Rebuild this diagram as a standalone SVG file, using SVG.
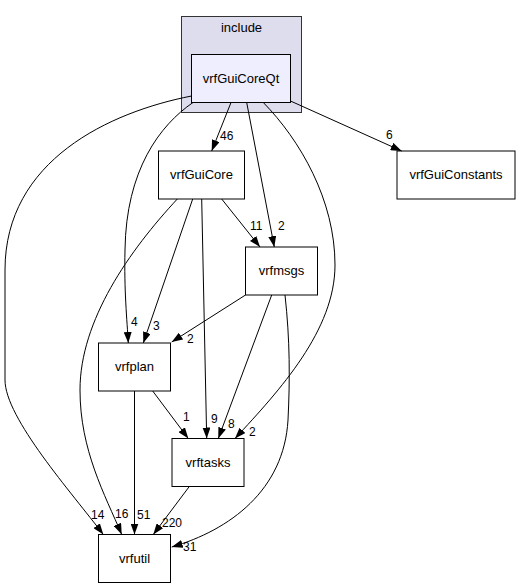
<svg xmlns="http://www.w3.org/2000/svg" width="520" height="588" viewBox="0 0 520 588">
<style>
.node rect{fill:#ffffff;stroke:#000000;stroke-width:1}
.nt{font-family:"Liberation Sans",Arial,sans-serif;font-size:13px;fill:#000000;text-anchor:middle}
.el{font-family:"Liberation Sans",Arial,sans-serif;font-size:12px;fill:#000000}
.edges path{fill:none;stroke:#000000;stroke-width:1;marker-end:url(#ah)}
</style>
<defs>
<marker id="ah" markerUnits="userSpaceOnUse" viewBox="0 0 11 8" refX="11" refY="4" markerWidth="11" markerHeight="8" orient="auto">
<path d="M0,0 L11,4 L0,8 Z" fill="#000000"/>
</marker>
</defs>
<rect width="520" height="588" fill="#ffffff"/>
<g id="cluster_include">
<rect x="181.5" y="16.5" width="120" height="96" fill="#ddddee" stroke="#333333"/>
<text class="nt" x="241.5" y="32">include</text>
</g>
<g id="node_vrfGuiCoreQt" class="node">
<rect x="191.5" y="54.5" width="99" height="48" style="fill:#eeeeff"/>
<text class="nt" x="241" y="82.5">vrfGuiCoreQt</text>
</g>
<g id="node_vrfGuiCore" class="node">
<rect x="158.5" y="151" width="86" height="48"/>
<text class="nt" x="201.5" y="179">vrfGuiCore</text>
</g>
<g id="node_vrfGuiConstants" class="node">
<rect x="397" y="151" width="118" height="48"/>
<text class="nt" x="456" y="179">vrfGuiConstants</text>
</g>
<g id="node_vrfmsgs" class="node">
<rect x="245.5" y="247" width="72" height="48"/>
<text class="nt" x="281.5" y="275">vrfmsgs</text>
</g>
<g id="node_vrfplan" class="node">
<rect x="98.5" y="343" width="72" height="48"/>
<text class="nt" x="134.5" y="371">vrfplan</text>
</g>
<g id="node_vrftasks" class="node">
<rect x="172" y="438.5" width="72" height="48"/>
<text class="nt" x="208" y="466.5">vrftasks</text>
</g>
<g id="node_vrfutil" class="node">
<rect x="98.5" y="534.5" width="72" height="48"/>
<text class="nt" x="134.5" y="562.5">vrfutil</text>
</g>
<g id="edges" class="edges">
<path d="M231,102.5 L211.7,151"/>
<path d="M290.5,101 L401.7,151"/>
<path d="M246.7,102.5 L274.3,247"/>
<path d="M193,102.5 C160,125 126,170 125,250 C124,290 127,320 128.3,343"/>
<path d="M263.3,102.5 C300,140 335,200 335,265 C335,330 280,390 235,438.5"/>
<path d="M191.5,96 C110,112 5,160 5,270 L5,380 C5,418 72,493 103.3,534.5"/>
<path d="M221.7,199 L260,247"/>
<path d="M192.7,199 L143.3,343"/>
<path d="M201.7,199 L206.7,438.5"/>
<path d="M177.3,199 C130,250 80,320 80,390 C80,450 105,495 121.7,534.5"/>
<path d="M245.5,295 L171.7,342"/>
<path d="M271.7,295 L218.3,438.5"/>
<path d="M285,295 C290,340 290,380 288,420 C284,490 230,530 171.7,547"/>
<path d="M134.5,391 L134.5,534.5"/>
<path d="M152.7,391 L188.3,438.5"/>
<path d="M189.3,486.5 L153.3,534.5"/>
</g>
<g id="edge_labels">
<text class="el" x="220" y="140">46</text>
<text class="el" x="386" y="139">6</text>
<text class="el" x="278" y="230">2</text>
<text class="el" x="131" y="326">4</text>
<text class="el" x="249" y="436">2</text>
<text class="el" x="91" y="519">14</text>
<text class="el" x="250" y="230">11</text>
<text class="el" x="153" y="330">3</text>
<text class="el" x="211" y="423">9</text>
<text class="el" x="115" y="518">16</text>
<text class="el" x="187" y="343">2</text>
<text class="el" x="228" y="428">8</text>
<text class="el" x="183" y="551">31</text>
<text class="el" x="183" y="421">1</text>
<text class="el" x="137" y="519">51</text>
<text class="el" x="162" y="527">220</text>
</g>
</svg>
